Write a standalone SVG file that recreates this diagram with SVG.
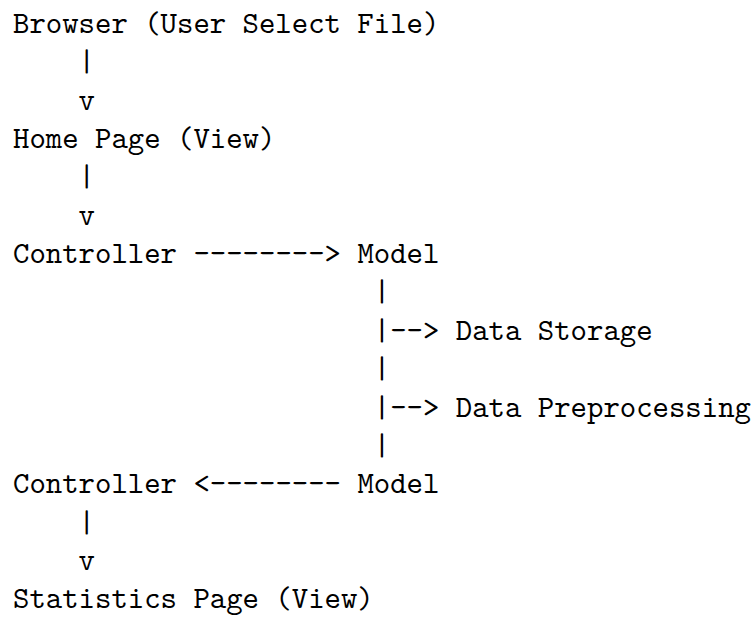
<svg xmlns="http://www.w3.org/2000/svg" width="754" height="617" viewBox="0 0 754 617">
<style>
text{font-family:"Latin Modern Mono","CMU Typewriter Text","Nimbus Mono PS","FreeMono","Liberation Mono",monospace;font-size:31.24px;fill:#000;white-space:pre}
</style>
<rect width="754" height="617" fill="#fff"/>
<g id="connectors">
<text x="78.6" y="71.35">|</text>
<text x="78.6" y="109.7">v</text>
<text x="78.6" y="186.4">|</text>
<text x="78.6" y="224.75">v</text>
<text x="193.4" y="263.1">--------&gt;</text>
<text x="373.8" y="301.45">|</text>
<text x="373.8" y="339.8">|--&gt;</text>
<text x="373.8" y="378.15">|</text>
<text x="373.8" y="416.5">|--&gt;</text>
<text x="373.8" y="454.85">|</text>
<text x="193.4" y="493.2">&lt;--------</text>
<text x="78.6" y="531.55">|</text>
<text x="78.6" y="569.9">v</text>
</g>
<g id="browser"><text x="13" y="33">Browser (User Select File)</text></g>
<g id="home-page"><text x="13" y="148.05">Home Page (View)</text></g>
<g id="controller-1"><text x="13" y="263.1">Controller</text></g>
<g id="model-1"><text x="357.4" y="263.1">Model</text></g>
<g id="data-storage"><text x="455.8" y="339.8">Data Storage</text></g>
<g id="data-preprocessing"><text x="455.8" y="416.5">Data Preprocessing</text></g>
<g id="controller-2"><text x="13" y="493.2">Controller</text></g>
<g id="model-2"><text x="357.4" y="493.2">Model</text></g>
<g id="statistics-page"><text x="13" y="608.25">Statistics Page (View)</text></g>
</svg>
